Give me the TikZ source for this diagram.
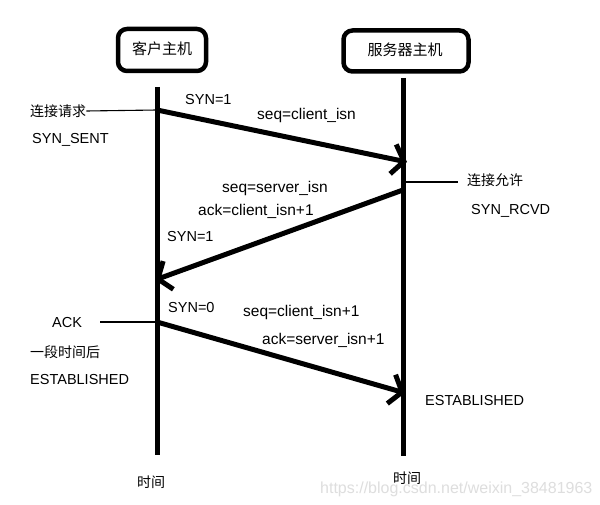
\documentclass[tikz,border=0pt]{standalone}
\usepackage{fontspec}
\setmainfont{Liberation Sans}
\newfontfamily\cjk{Noto Sans CJK SC}
\usetikzlibrary{arrows.meta}
\begin{document}
\begin{tikzpicture}[x=1pt,y=-1pt,
  lbl/.style={anchor=west,inner sep=0pt,font=\fontsize{14.5}{16}\selectfont},
  mlbl/.style={anchor=west,inner sep=0pt,font=\fontsize{15.5}{17}\selectfont},
  zh/.style={anchor=west,inner sep=0pt,font=\cjk\fontsize{14}{16}\selectfont},
  host/.style={draw,line width=4.5pt,rounded corners=9pt,inner sep=0pt},
  tline/.style={line width=5pt},
  msg/.style={line width=5pt,-{Straight Barb[length=11pt,width=30pt]}},
  tick/.style={line width=1.1pt}]
\useasboundingbox[fill=white] (0,0) rectangle (600,505);
% host boxes
\node[host,minimum width=88pt,minimum height=42pt] (cbox) at (162,50) {};
\node[zh,anchor=center,font=\cjk\fontsize{15}{17}\selectfont] (ctext) at (162,49) {客户主机};
\node[host,minimum width=125pt,minimum height=41pt] (sbox) at (406,51) {};
\node[zh,anchor=center,font=\cjk\fontsize{15}{17}\selectfont] (stext) at (405,50) {服务器主机};
% timelines
\coordinate (c0) at (157,87); \coordinate (c1) at (157,455);
\coordinate (s0) at (403,78); \coordinate (s1) at (403,456);
\draw[tline] (c0) -- (c1);
\draw[tline] (s0) -- (s1);
% messages
\coordinate (a1s) at (157,110); \coordinate (a1e) at (407,162);
\coordinate (a2s) at (403,190); \coordinate (a2e) at (155,280);
\coordinate (a3s) at (157,322); \coordinate (a3e) at (405,393);
\draw[msg] (a1s) -- (a1e);
\draw[msg] (a2s) -- (a2e);
\draw[msg] (a3s) -- (a3e);
% left side labels
\node[zh] (req) at (30,111) {连接请求};
\draw[tick] (req.east) -- (a1s);
\node[lbl] (synsent) at (32,140) {SYN\_SENT};
\node[lbl] (ack) at (52,323) {ACK};
\coordinate (ackt) at (100,322);
\draw[tick] (ackt) -- (a3s);
\node[zh] (later) at (30,352) {一段时间后};
\node[lbl] (estl) at (30,380) {ESTABLISHED};
% right side labels
\node[zh] (allow) at (467,180) {连接允许};
\coordinate (allowt) at (458,182);
\draw[tick] (403,182) -- (allowt);
\node[lbl] (rcvd) at (471,211) {SYN\_RCVD};
\node[lbl] (estr) at (425,401) {ESTABLISHED};
% message labels
\node[lbl] (syn1a) at (185,100) {SYN=1};
\node[mlbl] (seqc) at (257,115) {seq=client\_isn};
\node[mlbl] (seqs) at (222,188) {seq=server\_isn};
\node[mlbl] (ackc) at (198,211) {ack=client\_isn+1};
\node[lbl] (syn1b) at (167,237) {SYN=1};
\node[lbl] (syn0) at (168,308) {SYN=0};
\node[mlbl] (seqc1) at (243,312) {seq=client\_isn+1};
\node[mlbl] (acks) at (262,340) {ack=server\_isn+1};
% time labels
\node[zh] (timel) at (137,482) {时间};
\node[zh] (timer) at (393,478) {时间};
% watermark
\node[lbl,text=black!13,font=\fontsize{16}{18}\selectfont] (wm) at (320,489) {https://blog.csdn.net/weixin\_38481963};
\end{tikzpicture}
\end{document}
